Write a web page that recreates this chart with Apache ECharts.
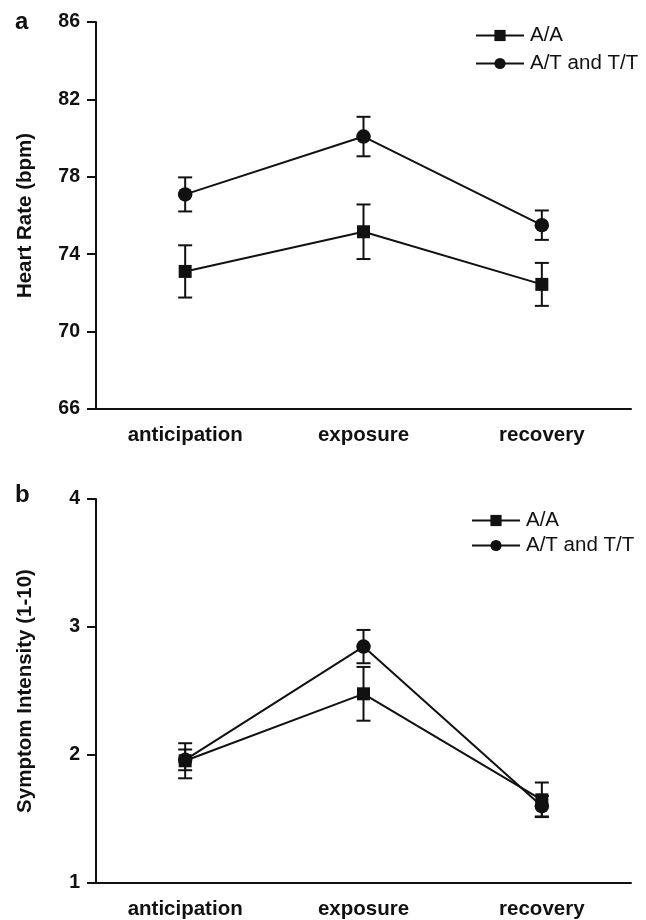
<!DOCTYPE html>
<html>
<head>
<meta charset="utf-8">
<script src="https://cdn.jsdelivr.net/npm/echarts@6/dist/echarts.min.js"></script>
<style>
  html, body { margin: 0; padding: 0; background: #fff; }
  #main { width: 646px; height: 920px; }
</style>
</head>
<body>
<div id="main"></div>
<script>
// categories shared by both panels
const categories = ['anticipation', 'exposure', 'recovery'];

// panel a - heart rate (bpm)
const hrAA = [73.11, 75.16, 72.44];
const hrAAErr = [1.35, 1.41, 1.11];
const hrAT = [77.09, 80.08, 75.5];
const hrATErr = [0.88, 1.02, 0.76];

// panel b - symptom intensity (1-10)
const siAA = [1.955, 2.478, 1.65];
const siAAErr = [0.137, 0.21, 0.135];
const siAT = [1.962, 2.847, 1.6];
const siATErr = [0.081, 0.13, 0.08];

const FONT = '"Liberation Sans", Arial, Helvetica, sans-serif';
const INK = '#111';

function errData(vals, errs) {
  return vals.map((v, i) => [i, v - errs[i], v + errs[i]]);
}

function renderErr(params, api) {
  const x = api.value(0);
  const lo = api.coord([x, api.value(1)]);
  const hi = api.coord([x, api.value(2)]);
  const w = 7;
  const style = { stroke: INK, lineWidth: 2 };
  return {
    type: 'group',
    children: [
      { type: 'line', shape: { x1: lo[0], y1: lo[1], x2: hi[0], y2: hi[1] }, style: style },
      { type: 'line', shape: { x1: lo[0] - w, y1: lo[1], x2: lo[0] + w, y2: lo[1] }, style: style },
      { type: 'line', shape: { x1: hi[0] - w, y1: hi[1], x2: hi[0] + w, y2: hi[1] }, style: style }
    ]
  };
}

function xAxisFor(gridIndex) {
  return {
    type: 'category',
    gridIndex: gridIndex,
    data: categories,
    boundaryGap: true,
    axisLine: { lineStyle: { color: INK, width: 2 } },
    axisTick: { show: false },
    axisLabel: { color: INK, fontFamily: FONT, fontWeight: 'bold', fontSize: 20.5, margin: 16 },
    splitLine: { show: false }
  };
}

function yAxisFor(gridIndex, name, min, max, interval) {
  return {
    type: 'value',
    gridIndex: gridIndex,
    min: min,
    max: max,
    interval: interval,
    name: name,
    nameLocation: 'middle',
    nameGap: 60,
    nameTextStyle: { color: INK, fontFamily: FONT, fontWeight: 'bold', fontSize: 20.5 },
    axisLine: { show: true, lineStyle: { color: INK, width: 2 } },
    axisTick: { show: true, length: 9, lineStyle: { color: INK, width: 2 } },
    axisLabel: { color: INK, fontFamily: FONT, fontWeight: 'bold', fontSize: 19.5, margin: 16 },
    splitLine: { show: false }
  };
}

function lineSeries(name, data, symbol, size, idx) {
  return {
    name: name,
    type: 'line',
    xAxisIndex: idx,
    yAxisIndex: idx,
    data: data,
    symbol: symbol,
    symbolSize: size,
    showAllSymbol: true,
    z: 3,
    itemStyle: { color: INK },
    lineStyle: { color: INK, width: 2 },
    emphasis: { disabled: true },
    animation: false
  };
}

function errSeries(data, idx) {
  return {
    type: 'custom',
    xAxisIndex: idx,
    yAxisIndex: idx,
    data: data,
    encode: { x: 0, y: [1, 2] },
    renderItem: renderErr,
    z: 2,
    silent: true,
    animation: false
  };
}

function legendFor(left, top, gap) {
  return {
    orient: 'vertical',
    left: left,
    top: top,
    itemWidth: 48,
    itemHeight: 14,
    itemGap: gap,
    data: ['A/A', 'A/T and T/T'],
    textStyle: { color: INK, fontFamily: FONT, fontSize: 20.5, padding: [0, 0, 0, 1] },
    selectedMode: false
  };
}

const chart = echarts.init(document.getElementById('main'));

const option = {
  animation: false,
  backgroundColor: '#fff',
  grid: [
    { left: 96, right: 15, top: 22, height: 387 },
    { left: 96, right: 15, top: 499, height: 388 }
  ],
  xAxis: [xAxisFor(0), xAxisFor(1)],
  yAxis: [
    yAxisFor(0, 'Heart Rate (bpm)', 66, 86, 4),
    yAxisFor(1, 'Symptom Intensity (1-10)', 1, 4, 1)
  ],
  legend: [legendFor(470, 20, 7), legendFor(466, 505, 4)],
  graphic: [
    { type: 'text', x: 15, y: 22, style: { text: 'a', fill: INK, font: 'bold 24px ' + FONT, verticalAlign: 'middle' } },
    { type: 'text', x: 15, y: 495, style: { text: 'b', fill: INK, font: 'bold 24px ' + FONT, verticalAlign: 'middle' } }
  ],
  series: [
    errSeries(errData(hrAA, hrAAErr), 0),
    errSeries(errData(hrAT, hrATErr), 0),
    lineSeries('A/A', hrAA, 'rect', 13, 0),
    lineSeries('A/T and T/T', hrAT, 'circle', 14.5, 0),
    errSeries(errData(siAA, siAAErr), 1),
    errSeries(errData(siAT, siATErr), 1),
    lineSeries('A/A', siAA, 'rect', 13, 1),
    lineSeries('A/T and T/T', siAT, 'circle', 14.5, 1)
  ]
};

chart.setOption(option);
</script>
</body>
</html>
